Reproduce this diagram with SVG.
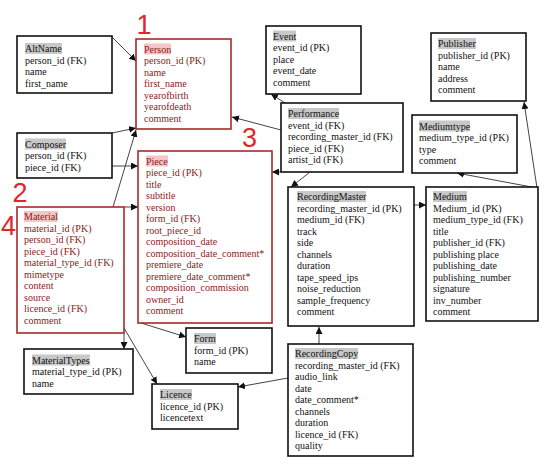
<svg xmlns="http://www.w3.org/2000/svg" width="549" height="465" viewBox="0 0 549 465">
<defs>
<marker id="arr" viewBox="0 0 10 10" refX="10" refY="5" markerWidth="7" markerHeight="7" markerUnits="userSpaceOnUse" orient="auto">
<path d="M0,0 L10,5 L0,10 z" fill="#111"/>
</marker>
<style>
.box{fill:#fff;stroke:#111;stroke-width:1.6}
.rbox{fill:#fff;stroke:#a52a2a;stroke-width:1.6}
text{font-family:"Liberation Serif","Times New Roman",serif;font-size:10px;fill:#111}
.r text{fill:#8b1a1a}
.hl{fill:#c8c8c8}
.rhl{fill:#f5c6c6}
.num{font-family:"Liberation Sans",Arial,sans-serif;font-size:27px;fill:#e0262a;text-anchor:middle}
.con line{stroke:#444;stroke-width:1;marker-end:url(#arr)}
</style>
</defs>
<rect width="549" height="465" fill="#fff"/>

<g id="connectors" class="con">
<line x1="112" y1="37" x2="136" y2="61"/>
<line x1="112" y1="133" x2="136" y2="128"/>
<line x1="112" y1="166" x2="138" y2="166"/>
<line x1="113" y1="207" x2="136" y2="130"/>
<line x1="124" y1="207" x2="138" y2="207"/>
<line x1="281" y1="130" x2="232" y2="117"/>
<line x1="285" y1="103" x2="271" y2="94"/>
<line x1="281" y1="172" x2="272" y2="172"/>
<line x1="310" y1="172" x2="291" y2="187"/>
<line x1="537" y1="188" x2="457" y2="173"/>
<line x1="537" y1="188" x2="524" y2="102"/>
<line x1="414" y1="205" x2="426" y2="205"/>
<line x1="319" y1="344" x2="319" y2="327"/>
<line x1="288" y1="378" x2="238" y2="387"/>
<line x1="141" y1="323" x2="186" y2="337"/>
<line x1="124" y1="333" x2="124" y2="349"/>
<line x1="124" y1="328" x2="157" y2="384"/>
</g>

<g id="labels">
<text class="num" x="144" y="34">1</text>
<text class="num" x="20" y="202">2</text>
<text class="num" x="249.5" y="147">3</text>
<text class="num" x="8.5" y="235">4</text>
</g>

<g id="AltName">
<rect class="box" x="17" y="36" width="95" height="57"/>
<rect class="hl" x="25" y="43" width="37" height="11"/>
<text x="25" y="52">AltName</text>
<text x="25" y="63.5">person_id (FK)</text>
<text x="25" y="75">name</text>
<text x="25" y="86.5">first_name</text>
</g>

<g id="Person" class="r">
<rect class="rbox" x="136" y="39" width="95" height="90"/>
<rect class="rhl" x="144" y="43.5" width="27" height="11"/>
<text x="144" y="52.5">Person</text>
<text x="144" y="64">person_id (PK)</text>
<text x="144" y="75.5">name</text>
<text x="144" y="87">first_name</text>
<text x="144" y="98.5">yearofbirth</text>
<text x="144" y="110">yearofdeath</text>
<text x="144" y="121.5">comment</text>
</g>

<g id="Composer">
<rect class="box" x="17" y="133" width="95" height="45"/>
<rect class="hl" x="25" y="138.5" width="41" height="11"/>
<text x="25" y="147.5">Composer</text>
<text x="25" y="159">person_id (FK)</text>
<text x="25" y="170.5">piece_id (FK)</text>
</g>

<g id="Piece" class="r">
<rect class="rbox" x="138" y="151" width="134" height="172"/>
<rect class="rhl" x="146" y="155.5" width="22" height="11"/>
<text x="146" y="164.5">Piece</text>
<text x="146" y="176">piece_id (PK)</text>
<text x="146" y="187.5">title</text>
<text x="146" y="199">subtitle</text>
<text x="146" y="210.5">version</text>
<text x="146" y="222">form_id (FK)</text>
<text x="146" y="233.5">root_piece_id</text>
<text x="146" y="245">composition_date</text>
<text x="146" y="256.5">composition_date_comment*</text>
<text x="146" y="268">premiere_date</text>
<text x="146" y="279.5">premiere_date_comment*</text>
<text x="146" y="291">composition_commission</text>
<text x="146" y="302.5">owner_id</text>
<text x="146" y="314">comment</text>
</g>

<g id="Material" class="r">
<rect class="rbox" x="17" y="207" width="107" height="126"/>
<rect class="rhl" x="24" y="211" width="34" height="11"/>
<text x="24" y="220">Material</text>
<text x="24" y="231.5">material_id (PK)</text>
<text x="24" y="243">person_id (FK)</text>
<text x="24" y="254.5">piece_id (FK)</text>
<text x="24" y="266">material_type_id (FK)</text>
<text x="24" y="277.5">mimetype</text>
<text x="24" y="289">content</text>
<text x="24" y="300.5">source</text>
<text x="24" y="312">licence_id (FK)</text>
<text x="24" y="323.5">comment</text>
</g>

<g id="Event">
<rect class="box" x="266" y="26" width="95" height="68"/>
<rect class="hl" x="273" y="30.5" width="23" height="11"/>
<text x="273" y="39.5">Event</text>
<text x="273" y="51">event_id (PK)</text>
<text x="273" y="62.5">place</text>
<text x="273" y="74">event_date</text>
<text x="273" y="85.5">comment</text>
</g>

<g id="Publisher">
<rect class="box" x="431" y="33" width="95" height="68"/>
<rect class="hl" x="438" y="38" width="38" height="11"/>
<text x="438" y="47">Publisher</text>
<text x="438" y="58.5">publisher_id (PK)</text>
<text x="438" y="70">name</text>
<text x="438" y="81.5">address</text>
<text x="438" y="93">comment</text>
</g>

<g id="Performance">
<rect class="box" x="281" y="103" width="122" height="69"/>
<rect class="hl" x="288" y="108" width="51" height="11"/>
<text x="288" y="117">Performance</text>
<text x="288" y="128.5">event_id (FK)</text>
<text x="288" y="140">recording_master_id (FK)</text>
<text x="288" y="151.5">piece_id (FK)</text>
<text x="288" y="163">artist_id (FK)</text>
</g>

<g id="Mediumtype">
<rect class="box" x="412" y="115" width="105" height="58"/>
<rect class="hl" x="419" y="120.5" width="51" height="11"/>
<text x="419" y="129.5">Mediumtype</text>
<text x="419" y="141">medium_type_id (PK)</text>
<text x="419" y="152.5">type</text>
<text x="419" y="164">comment</text>
</g>

<g id="RecordingMaster">
<rect class="box" x="288" y="187" width="126" height="139"/>
<rect class="hl" x="297" y="191" width="69" height="11"/>
<text x="297" y="200">RecordingMaster</text>
<text x="297" y="211.5">recording_master_id (PK)</text>
<text x="297" y="223">medium_id (FK)</text>
<text x="297" y="234.5">track</text>
<text x="297" y="246">side</text>
<text x="297" y="257.5">channels</text>
<text x="297" y="269">duration</text>
<text x="297" y="280.5">tape_speed_ips</text>
<text x="297" y="292">noise_reduction</text>
<text x="297" y="303.5">sample_frequency</text>
<text x="297" y="315">comment</text>
</g>

<g id="Medium">
<rect class="box" x="426" y="187" width="112" height="134"/>
<rect class="hl" x="433" y="191" width="34" height="11"/>
<text x="433" y="200">Medium</text>
<text x="433" y="211.5">Medium_id (PK)</text>
<text x="433" y="223">medium_type_id (FK)</text>
<text x="433" y="234.5">title</text>
<text x="433" y="246">publisher_id (FK)</text>
<text x="433" y="257.5">publishing place</text>
<text x="433" y="269">publishing_date</text>
<text x="433" y="280.5">publishing_number</text>
<text x="433" y="292">signature</text>
<text x="433" y="303.5">inv_number</text>
<text x="433" y="315">comment</text>
</g>

<g id="Form">
<rect class="box" x="186" y="328" width="86" height="45"/>
<rect class="hl" x="194" y="333" width="22" height="11"/>
<text x="194" y="342">Form</text>
<text x="194" y="353.5">form_id (PK)</text>
<text x="194" y="365">name</text>
</g>

<g id="MaterialTypes">
<rect class="box" x="24" y="349" width="109" height="45"/>
<rect class="hl" x="32" y="354.5" width="58" height="11"/>
<text x="32" y="363.5">MaterialTypes</text>
<text x="32" y="375">material_type_id (PK)</text>
<text x="32" y="386.5">name</text>
</g>

<g id="Licence">
<rect class="box" x="152" y="384" width="86" height="45"/>
<rect class="hl" x="160" y="389" width="32" height="11"/>
<text x="160" y="398">Licence</text>
<text x="160" y="409.5">licence_id (PK)</text>
<text x="160" y="421">licencetext</text>
</g>

<g id="RecordingCopy">
<rect class="box" x="288" y="344" width="125" height="112"/>
<rect class="hl" x="295" y="348" width="63" height="11"/>
<text x="295" y="357">RecordingCopy</text>
<text x="295" y="368.5">recording_master_id (FK)</text>
<text x="295" y="380">audio_link</text>
<text x="295" y="391.5">date</text>
<text x="295" y="403">date_comment*</text>
<text x="295" y="414.5">channels</text>
<text x="295" y="426">duration</text>
<text x="295" y="437.5">licence_id (FK)</text>
<text x="295" y="449">quality</text>
</g>
</svg>
